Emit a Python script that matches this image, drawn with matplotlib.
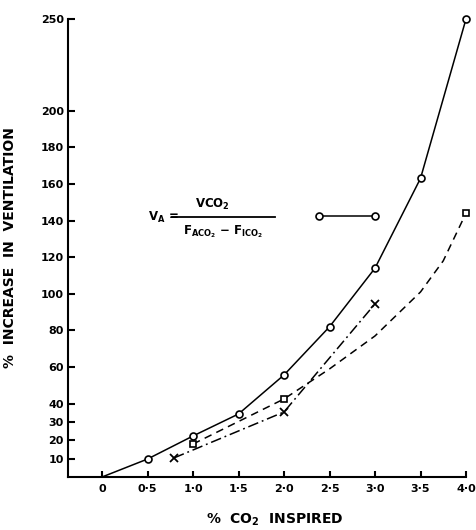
import matplotlib
matplotlib.use("Agg")
import matplotlib.pyplot as plt

plt.rcParams['font.family'] = ['DejaVu Sans']
plt.rcParams['mathtext.fontset'] = 'dejavusans'

# Data
circ_x = [0.0, 0.5, 1.0, 1.5, 2.0, 2.5, 3.0, 3.5, 4.0]
circ_y = [0.0, 9.8, 22.4, 34.4, 55.7, 82.0, 114.0, 163.0, 250.0]
circ_marked = [False, True, True, True, True, True, True, True, True]

sq_x = [1.0, 2.0, 4.0]
sq_y = [18.0, 42.6, 144.0]
# dashed curve through the square points
sq_curve_x = [1.0, 2.0, 2.5, 3.0, 3.5, 3.75, 4.0]
sq_curve_y = [18.0, 42.6, 59.0, 77.0, 101.0, 118.0, 144.0]

cr_x = [0.79, 2.0, 3.0]
cr_y = [10.4, 35.5, 94.5]

x_ticks = [0, 0.5, 1.0, 1.5, 2.0, 2.5, 3.0, 3.5, 4.0]
x_ticklabels = ['0', '0·5', '1·0', '1·5', '2·0', '2·5', '3·0', '3·5', '4·0']
y_ticks = [10, 20, 30, 40, 60, 80, 100, 120, 140, 160, 180, 200, 250]

fig = plt.figure(figsize=(4.77, 5.30), dpi=100)
ax = fig.add_axes([68/477, 53/530, 398/477, 458/530])

ax.set_xlim(-0.374, 4.0)
ax.set_ylim(0, 250)

lw = 1.1
# solid circle series
ax.plot(circ_x, circ_y, '-', color='black', lw=lw, clip_on=False)
mx = [x for x, m in zip(circ_x, circ_marked) if m]
my = [y for y, m in zip(circ_y, circ_marked) if m]
ax.plot(mx, my, 'o', ms=5, mfc='white', mec='black', mew=1.2, clip_on=False, zorder=5)

# dashed square series
ax.plot(sq_curve_x, sq_curve_y, color='black', lw=lw, dashes=(5, 3.5), clip_on=False)
ax.plot(sq_x, sq_y, 's', ms=4.5, mfc='white', mec='black', mew=1.2, clip_on=False, zorder=5)

# dash-dot cross series
ax.plot(cr_x, cr_y, color='black', lw=lw, dashes=(7, 2.5, 1.2, 2.5), clip_on=False)
ax.plot(cr_x, cr_y, 'x', ms=5.5, mec='black', mew=1.3, clip_on=False, zorder=5)

# spines
for s in ['top', 'right']:
    ax.spines[s].set_visible(False)
for s in ['left', 'bottom']:
    ax.spines[s].set_linewidth(1.5)

ax.set_xticks(x_ticks)
ax.set_xticklabels(x_ticklabels)
ax.set_yticks(y_ticks)
ax.set_yticklabels([str(v) for v in y_ticks])
ax.tick_params(axis='both', direction='in', width=1.5, labelsize=8)
ax.tick_params(axis='y', length=5, pad=3)
ax.tick_params(axis='x', length=4, pad=5)
for lab in ax.get_xticklabels() + ax.get_yticklabels():
    lab.set_fontweight('bold')

ax.set_ylabel('%  INCREASE  IN  VENTILATION', fontsize=10, fontweight='bold', labelpad=12)
ax.yaxis.set_label_coords(-51/398, 0.5)
ax.set_xlabel('%  CO$_\\mathbf{2}$  INSPIRED', fontsize=10, fontweight='bold')
ax.xaxis.set_label_coords((275-68)/398, -35/458)

# equation "legend"
def px(x, y):
    # figure pixel -> figure fraction
    return x / 477, 1 - y / 530

fig.text(*px(148, 217), 'V$_\\mathregular{A}$ =', fontsize=8.5, fontweight='bold',
         ha='left', va='center')
fig.text(*px(212, 204), 'V$\\mathregular{CO_2}$', fontsize=8.5, fontweight='bold',
         ha='center', va='center')
fig.text(*px(223, 232), 'F$_{\\mathregular{ACO_2}}$ − F$_{\\mathregular{ICO_2}}$', fontsize=8.5,
         fontweight='bold', ha='center', va='center')
fig.add_artist(plt.Line2D([172/477, 275/477], [1 - 217/530, 1 - 217/530],
                          color='black', lw=1.3, transform=fig.transFigure))
fig.add_artist(plt.Line2D([319/477, 375/477], [1 - 216/530, 1 - 216/530],
                          color='black', lw=lw, marker='o', ms=5, mfc='white',
                          mec='black', mew=1.2, transform=fig.transFigure))

fig.savefig('out.png', dpi=100)
